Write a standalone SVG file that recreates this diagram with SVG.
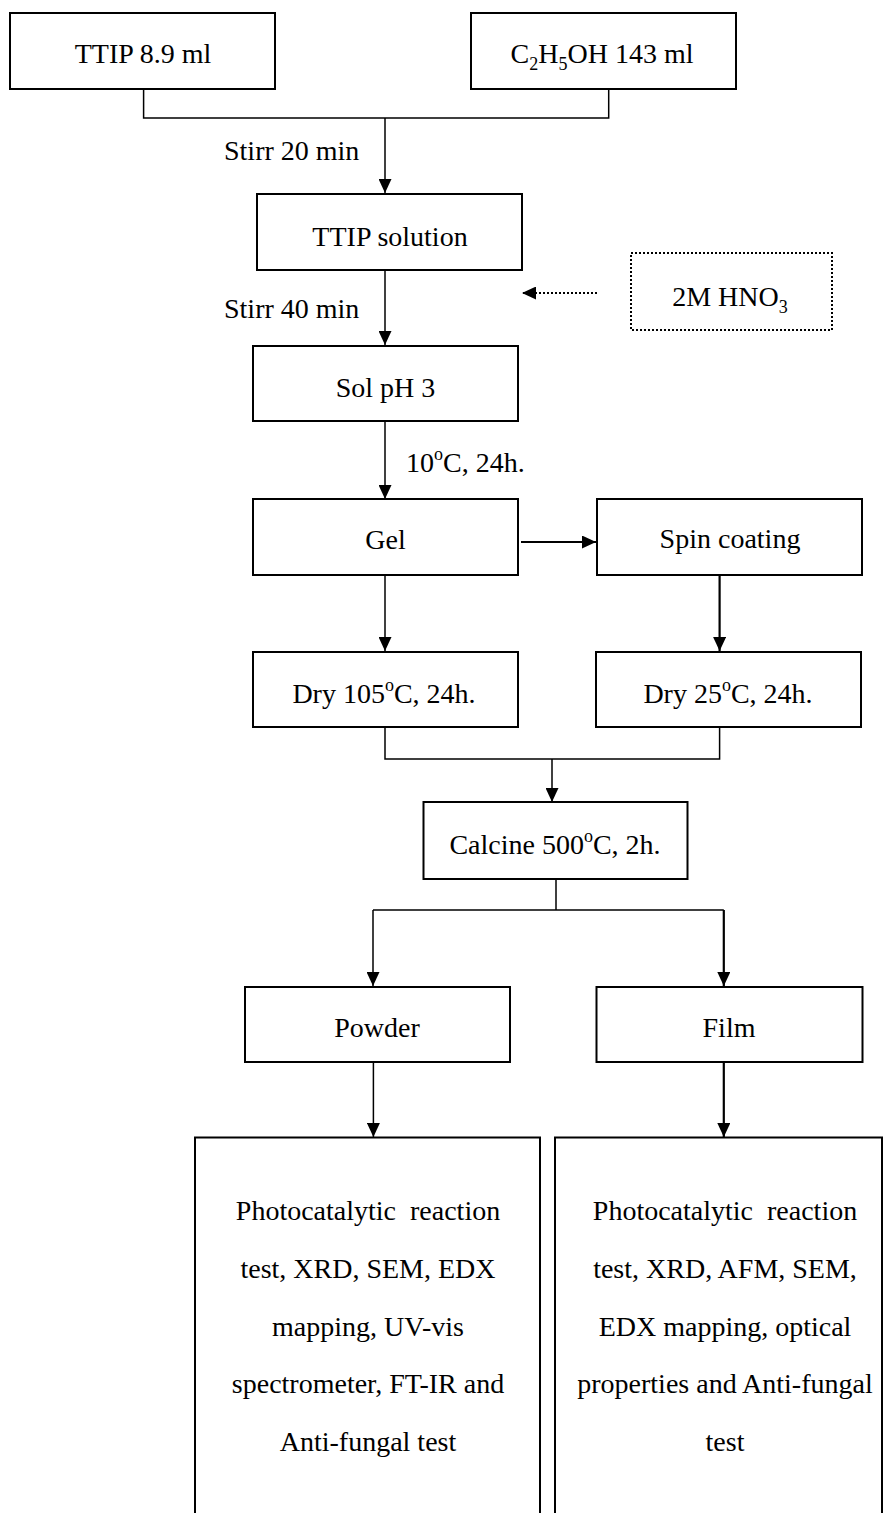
<svg xmlns="http://www.w3.org/2000/svg" width="883" height="1513" viewBox="0 0 883 1513">
<style>
.box{fill:#fff;stroke:#000;stroke-width:2}
.dotbox{fill:#fff;stroke:#000;stroke-width:2;stroke-dasharray:2,2}
.t{font-family:"Liberation Serif","Times New Roman",serif;font-size:28px;fill:#000}
.c{text-anchor:middle}
.ln{fill:none;stroke:#000;stroke-width:1.5}
.thk{stroke-width:2.2}
.dot{stroke-dasharray:2,2;stroke-width:2}
</style>
<defs>
<marker id="ah" viewBox="0 0 14 13" refX="14" refY="6.5" markerWidth="14" markerHeight="13" markerUnits="userSpaceOnUse" orient="auto">
<path d="M0,0 L14,6.5 L0,13 z" fill="#000"/>
</marker>
</defs>
<rect width="883" height="1513" fill="#fff"/>
<g id="connectors">
<path class="ln" d="M143.6,89 V118 H608.7 V89"/>
<path class="ln" d="M385,118 V193" marker-end="url(#ah)"/>
<path class="ln" d="M385,270 V345" marker-end="url(#ah)"/>
<path class="ln dot" d="M597,293 H522" marker-end="url(#ah)"/>
<path class="ln" d="M385,421 V499" marker-end="url(#ah)"/>
<path class="ln thk" d="M521,542 H596" marker-end="url(#ah)"/>
<path class="ln" d="M385,575 V651" marker-end="url(#ah)"/>
<path class="ln thk" d="M719.6,575 V651" marker-end="url(#ah)"/>
<path class="ln" d="M385,727 V759 H719.6 V727"/>
<path class="ln" d="M552,759 V802" marker-end="url(#ah)"/>
<path class="ln" d="M556,879 V910"/>
<path class="ln" d="M373,910 H723.8"/>
<path class="ln" d="M373,910 V986" marker-end="url(#ah)"/>
<path class="ln thk" d="M723.8,910 V986" marker-end="url(#ah)"/>
<path class="ln" d="M373.4,1062 V1137" marker-end="url(#ah)"/>
<path class="ln thk" d="M723.8,1062 V1137" marker-end="url(#ah)"/>
<text class="t" x="224" y="160">Stirr 20 min</text>
<text class="t" x="224" y="318">Stirr 40 min</text>
<text class="t" x="406" y="472">10<tspan font-size="18" dy="-12">o</tspan><tspan dy="12">C, 24h.</tspan></text>
</g>
<g id="ttip">
<rect class="box" x="10" y="13" width="265" height="76"/>
<text class="t c" x="143" y="63">TTIP 8.9 ml</text>
</g>
<g id="ethanol">
<rect class="box" x="471" y="13" width="265" height="76"/>
<text class="t c" x="602" y="63">C<tspan font-size="18" dy="7">2</tspan><tspan dy="-7">H</tspan><tspan font-size="18" dy="7">5</tspan><tspan dy="-7">OH 143 ml</tspan></text>
</g>
<g id="ttip-solution">
<rect class="box" x="257" y="194" width="265" height="76"/>
<text class="t c" x="390" y="246">TTIP solution</text>
</g>
<g id="hno3">
<rect class="dotbox" x="631" y="253" width="201" height="77"/>
<text class="t c" x="730" y="306">2M HNO<tspan font-size="18" dy="7">3</tspan></text>
</g>
<g id="sol">
<rect class="box" x="253" y="346" width="265" height="75"/>
<text class="t c" x="385.5" y="397">Sol pH 3</text>
</g>
<g id="gel">
<rect class="box" x="253" y="499" width="265" height="76"/>
<text class="t c" x="385.5" y="549">Gel</text>
</g>
<g id="spin">
<rect class="box" x="597" y="499" width="265" height="76"/>
<text class="t c" x="730" y="548">Spin coating</text>
</g>
<g id="dry105">
<rect class="box" x="253" y="652" width="265" height="75"/>
<text class="t c" x="384" y="703">Dry 105<tspan font-size="18" dy="-12">o</tspan><tspan dy="12">C, 24h.</tspan></text>
</g>
<g id="dry25">
<rect class="box" x="596" y="652" width="265" height="75"/>
<text class="t c" x="728" y="703">Dry 25<tspan font-size="18" dy="-12">o</tspan><tspan dy="12">C, 24h.</tspan></text>
</g>
<g id="calcine">
<rect class="box" x="423.5" y="802" width="264" height="77"/>
<text class="t c" x="555" y="854">Calcine 500<tspan font-size="18" dy="-12">o</tspan><tspan dy="12">C, 2h.</tspan></text>
</g>
<g id="powder">
<rect class="box" x="245" y="987" width="265" height="75"/>
<text class="t c" x="377" y="1037">Powder</text>
</g>
<g id="film">
<rect class="box" x="596.5" y="987" width="266" height="75"/>
<text class="t c" x="729" y="1037">Film</text>
</g>
<g id="powder-tests">
<path class="box" d="M195,1514 V1137.5 H540 V1514"/>
<text class="t c" x="368" y="1220" xml:space="preserve">Photocatalytic  reaction</text>
<text class="t c" x="368" y="1278">test, XRD, SEM, EDX</text>
<text class="t c" x="368" y="1336">mapping, UV-vis</text>
<text class="t c" x="368" y="1393">spectrometer, FT-IR and</text>
<text class="t c" x="368" y="1451">Anti-fungal test</text>
</g>
<g id="film-tests">
<path class="box" d="M555,1514 V1137.5 H882 V1514"/>
<text class="t c" x="725" y="1220" xml:space="preserve">Photocatalytic  reaction</text>
<text class="t c" x="725" y="1278">test, XRD, AFM, SEM,</text>
<text class="t c" x="725" y="1336">EDX mapping, optical</text>
<text class="t c" x="725" y="1393">properties and Anti-fungal</text>
<text class="t c" x="725" y="1451">test</text>
</g>
</svg>
